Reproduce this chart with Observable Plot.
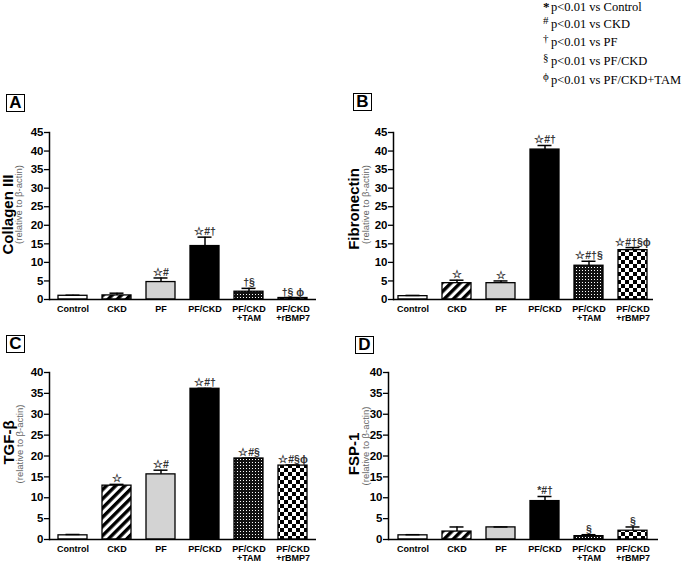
<!DOCTYPE html>
<html>
<head>
<meta charset="utf-8">
<script src="https://cdn.jsdelivr.net/npm/d3@7"></script>
<script src="https://cdn.jsdelivr.net/npm/@observablehq/plot@0.6"></script>
<style>
  html, body { margin: 0; padding: 0; background: #fff; }
  #root { position: relative; width: 685px; height: 563px; overflow: hidden; background: #fff; font-family: Arial, "Liberation Sans", sans-serif; }
  .panel { position: absolute; }
  .letter { position: absolute; width: 17px; height: 16px; border: 1.5px solid #000; font: bold 17px Arial, "Liberation Sans", sans-serif; line-height: 16px; text-align: center; }
  .leg { position: absolute; font: 12.5px "Liberation Serif", "Times New Roman", serif; white-space: nowrap; color: #000; }
  .leg .sym { position: absolute; font-size: 11px; top: -3px; }
  .leg .txt { position: absolute; left: 8px; top: 0; }
</style>
</head>
<body>
<div id="root">
  <svg width="0" height="0" style="position:absolute">
    <defs>
      <pattern id="stripe" patternUnits="userSpaceOnUse" width="6.5" height="6.5" patternTransform="rotate(45)">
        <rect width="6.5" height="6.5" fill="#fff"></rect>
        <rect width="3.4" height="6.5" fill="#000"></rect>
      </pattern>
      <pattern id="fineck" patternUnits="userSpaceOnUse" width="3" height="3">
        <rect width="3" height="3" fill="#111"></rect>
        <rect width="1" height="1" fill="#fff"></rect>
      </pattern>
      <pattern id="ck" patternUnits="userSpaceOnUse" width="8" height="8">
        <rect width="8" height="8" fill="#fff"></rect>
        <rect width="4" height="4" fill="#000"></rect>
        <rect x="4" y="4" width="4" height="4" fill="#000"></rect>
      </pattern>
    </defs>
  </svg>
</div>
<script>
// ---- data ----
const groups = ["Control", "CKD", "PF", "PF/CKD", "PF/CKD\n+TAM", "PF/CKD\n+rBMP7"];

const collagenIII = [1.0, 1.1, 4.7, 14.4, 2.1, 0.4];
const collagenIIIErr = [0.15, 0.6, 1.1, 2.4, 0.9, 0.1];
const collagenIIISig = ["", "", "☆#", "☆#†", "†§", "†§ ϕ"];

const fibronectin = [0.9, 4.4, 4.4, 40.4, 9.1, 13.3];
const fibronectinErr = [0.2, 0.8, 0.6, 1.1, 1.2, 0.7];
const fibronectinSig = ["", "☆", "☆", "☆#†", "☆#†§", "☆#†§ϕ"];

const tgfb = [1.0, 12.9, 15.6, 36.1, 19.4, 17.7];
const tgfbErr = [0.2, 0.3, 1.0, 0.1, 0.1, 0.15];
const tgfbSig = ["", "☆", "☆#", "☆#†", "☆#§", "☆#§ϕ"];

const fsp1 = [1.0, 1.9, 2.9, 9.2, 0.8, 2.1];
const fsp1Err = [0.15, 1.1, 0.1, 1.1, 0.35, 0.9];
const fsp1Sig = ["", "", "", "*#†", "§", "§"];

const legendSymbols = ["*", "#", "†", "§", "ϕ"];
const legendTexts = ["p<0.01 vs Control", "p<0.01 vs CKD", "p<0.01 vs PF", "p<0.01 vs PF/CKD", "p<0.01 vs PF/CKD+TAM"];

const yTicks45 = [0, 5, 10, 15, 20, 25, 30, 35, 40, 45];
const yTicks40 = [0, 5, 10, 15, 20, 25, 30, 35, 40];

// ---- styles (not data) ----
const fills = ["#ffffff", "url(#stripe)", "#d3d3d3", "#000000", "url(#fineck)", "url(#ck)"];

const root = document.getElementById("root");

function panel({letter, left, top, values, errs, sigs, label, yMax, ticks, marginLeft, marginRight, padOuter, letterPos, labelX, relX, labelDy, relDy, labelSpacing}) {
  const data = groups.map((g, i) => ({group: g, value: values[i], err: errs[i], top: values[i] + errs[i], sig: sigs[i]}));
  const W = 340, H = 215, mt = 12, mb = 36;
  const chart = Plot.plot({
    width: W, height: H,
    marginTop: mt, marginBottom: mb, marginLeft, marginRight,
    style: {fontFamily: "Arial, 'Liberation Sans', sans-serif", background: "transparent", overflow: "visible"},
    x: {domain: groups, paddingInner: 0.33, paddingOuter: padOuter, label: null},
    y: {domain: [0, yMax], label: null},
    color: {domain: groups, range: fills},
    marks: [
      Plot.barY(data, {x: "group", y: "value", fill: "group", stroke: "#000", strokeWidth: 1.3}),
      Plot.ruleX(data, {x: "group", y1: "value", y2: "top", stroke: "#000", strokeWidth: 1.5}),
      Plot.tickY(data, {x: "group", y: "top", stroke: "#000", strokeWidth: 1.5, insetLeft: 7.5, insetRight: 7.5}),
      Plot.text(data, {x: "group", y: "top", text: "sig", lineAnchor: "bottom", dy: -2, fontSize: 10.5, fill: "#333", fontWeight: "bold", letterSpacing: 0.5}),
      Plot.ruleY([0], {stroke: "#000", strokeWidth: 1.5}),
      Plot.frame({anchor: "left", stroke: "#000", strokeWidth: 1.5}),
      Plot.axisY({ticks, tickSize: 5, tickPadding: 1, fontSize: 11.5, fontWeight: "bold", tickFormat: d => String(d), strokeWidth: 1.3}),
      Plot.axisX({tickSize: 0, tickPadding: 6, fontSize: 9, fontWeight: "bold", lineHeight: 1.0, label: null}),
      Plot.text([label], {frameAnchor: "left", text: d => d, rotate: -90, textAnchor: "middle", lineAnchor: "middle", dx: labelX - marginLeft, dy: labelDy, fontSize: 15, letterSpacing: labelSpacing, fontWeight: "bold", fill: "#000", fontFamily: "'Liberation Sans', Arial, sans-serif"}),
      Plot.text(["(relative to β-actin)"], {frameAnchor: "left", text: d => d, rotate: -90, textAnchor: "middle", lineAnchor: "middle", dx: relX - marginLeft, dy: relDy, fontSize: 9.5, fill: "#666", fontFamily: "'Liberation Sans', Arial, sans-serif"})
    ]
  });
  const wrap = document.createElement("div");
  wrap.className = "panel";
  wrap.style.left = left + "px";
  wrap.style.top = top + "px";
  wrap.appendChild(chart);
  root.appendChild(wrap);

  const box = document.createElement("div");
  box.className = "letter";
  box.textContent = letter;
  box.style.left = letterPos[0] + "px";
  box.style.top = letterPos[1] + "px";
  root.appendChild(box);
}

panel({letter: "A", left: 0, top: 120, values: collagenIII, errs: collagenIIIErr, sigs: collagenIIISig, label: "Collagen III",
  yMax: 45, ticks: yTicks45, marginLeft: 49, marginRight: 24, padOuter: 0.165, letterPos: [6, 94], labelX: 7.5, relX: 18.5,
  labelDy: -1.5, relDy: -11.5, labelSpacing: 0});
panel({letter: "B", left: 345, top: 120, values: fibronectin, errs: fibronectinErr, sigs: fibronectinSig, label: "Fibronectin",
  yMax: 45, ticks: yTicks45, marginLeft: 48, marginRight: 32, padOuter: 0.115, letterPos: [353, 93], labelX: 9, relX: 20,
  labelDy: -7, relDy: -11.5, labelSpacing: 0});
panel({letter: "C", left: 0, top: 360, values: tgfb, errs: tgfbErr, sigs: tgfbSig, label: "TGF-β",
  yMax: 40, ticks: yTicks40, marginLeft: 49, marginRight: 24, padOuter: 0.165, letterPos: [6, 335], labelX: 9, relX: 19.5,
  labelDy: -13.5, relDy: -12, labelSpacing: 2.5});
panel({letter: "D", left: 345, top: 360, values: fsp1, errs: fsp1Err, sigs: fsp1Sig, label: "FSP-1",
  yMax: 40, ticks: yTicks40, marginLeft: 43, marginRight: 27, padOuter: 0.2, letterPos: [355, 336], labelX: 9, relX: 20,
  labelDy: -2, relDy: -10, labelSpacing: 0});

// legend
const legTops = [0, 17, 35, 54, 72.5];
legendTexts.forEach((t, i) => {
  const d = document.createElement("div");
  d.className = "leg";
  d.style.left = "543px";
  d.style.top = legTops[i] + "px";
  const s = document.createElement("span");
  s.className = "sym";
  s.textContent = legendSymbols[i];
  if (i === 0) { s.style.fontWeight = "bold"; s.style.fontSize = "13px"; s.style.top = "-1px"; }
  const tx = document.createElement("span");
  tx.className = "txt";
  tx.textContent = t;
  d.appendChild(s);
  d.appendChild(tx);
  root.appendChild(d);
});
</script>
</body>
</html>
